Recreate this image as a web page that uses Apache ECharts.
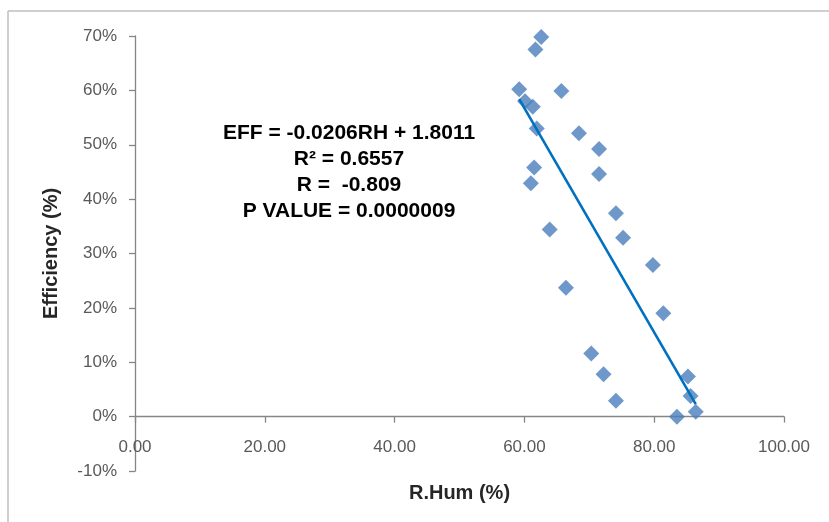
<!DOCTYPE html>
<html>
<head>
<meta charset="utf-8">
<script src="https://cdn.jsdelivr.net/npm/echarts@6/dist/echarts.min.js"></script>
<style>html,body{margin:0;padding:0;background:#fff}#c{width:829px;height:522px}</style>
</head>
<body>
<div id="c"></div>
<script>
// Relative humidity (%) vs efficiency (%)
const rHum = [62.6, 61.7, 59.2, 65.7, 60.1, 61.3, 61.9, 68.4, 71.5, 61.5, 71.5, 61.0, 74.1, 63.9, 75.2, 79.8, 66.4, 81.4, 70.3, 72.2, 85.2, 85.6, 74.1, 86.4, 83.5];
const efficiency = [69.8, 67.5, 60.2, 59.9, 58.0, 57.0, 53.0, 52.1, 49.2, 45.8, 44.6, 42.9, 37.4, 34.4, 32.9, 27.9, 23.7, 19.0, 11.6, 7.8, 7.4, 3.8, 2.9, 0.9, 0.0];
// Linear trendline end points (x, y%)
const trendX = [59.2, 86.4];
const trendY = [58.4, 2.3];
const xTicks = {min: 0, max: 100, interval: 20};
const yTicks = {min: -10, max: 70, interval: 10};
const annotation = ['EFF = -0.0206RH + 1.8011', 'R² = 0.6557', 'R =  -0.809', 'P VALUE = 0.0000009'];

const pts = rHum.map((x, i) => [x, efficiency[i]]);
const trend = trendX.map((x, i) => [x, trendY[i]]);

const chart = echarts.init(document.getElementById('c'));
const axisColor = '#868686';
const labelFont = {color: '#595959', fontFamily: 'Liberation Sans', fontSize: 17};
chart.setOption({
  animation: false,
  grid: {left: 135, right: 45, top: 36, bottom: 51, containLabel: false, outerBoundsMode: 'none'},
  xAxis: {
    type: 'value', min: xTicks.min, max: xTicks.max, interval: xTicks.interval,
    name: 'R.Hum (%)', nameLocation: 'middle', nameGap: 12, nameMoveOverlap: false,
    nameTextStyle: {fontFamily: 'Liberation Sans', fontWeight: 'bold', fontSize: 20, color: '#262626', verticalAlign: 'top'},
    axisLine: {onZero: true, lineStyle: {color: axisColor, width: 1.3}},
    axisTick: {show: true, length: 6, lineStyle: {color: axisColor, width: 1.3}},
    axisLabel: Object.assign({margin: -32, formatter: v => v.toFixed(2)}, labelFont),
    splitLine: {show: false}
  },
  yAxis: {
    type: 'value', min: yTicks.min, max: yTicks.max, interval: yTicks.interval,
    name: 'Efficiency (%)', nameLocation: 'middle', nameGap: 74, nameRotate: 90,
    nameTextStyle: {fontFamily: 'Liberation Sans', fontWeight: 'bold', fontSize: 20, color: '#262626'},
    axisLine: {show: true, onZero: false, lineStyle: {color: axisColor, width: 1.3}},
    axisTick: {show: true, length: 6, lineStyle: {color: axisColor, width: 1.3}},
    axisLabel: Object.assign({margin: 18, formatter: '{value}%'}, labelFont),
    splitLine: {show: false}
  },
  series: [
    {type: 'scatter', data: pts, symbol: 'diamond', symbolSize: 16,
     itemStyle: {color: '#4A7EBB'}, z: 3},
    {type: 'line', data: trend, symbol: 'none', lineStyle: {color: '#0070C0', width: 2.6}, z: 4}
  ],
  graphic: [
    {type: 'line', shape: {x1: 8, y1: 11, x2: 829, y2: 11}, style: {stroke: '#BFBFBF', lineWidth: 1.5}},
    {type: 'line', shape: {x1: 8, y1: 11, x2: 8, y2: 522}, style: {stroke: '#BFBFBF', lineWidth: 1.5}},
    {type: 'text', x: 349, y: 120,
     style: {text: annotation.join('\n'), textAlign: 'center', textVerticalAlign: 'top',
       font: 'bold 21px "Liberation Sans"', lineHeight: 26, fill: '#000'}}
  ]
});
</script>
</body>
</html>
